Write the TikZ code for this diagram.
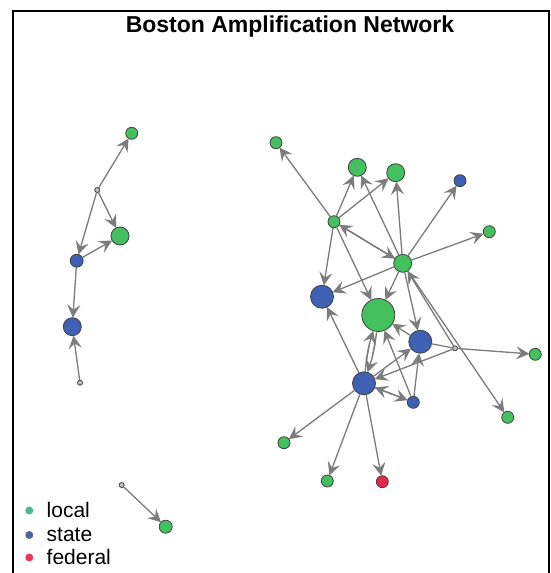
\documentclass[tikz,border=0pt]{standalone}
\usepackage{fontspec}
\setmainfont{Liberation Sans}
\usetikzlibrary{arrows.meta}
\definecolor{localc}{HTML}{44C15E}
\definecolor{statec}{HTML}{3F61B4}
\definecolor{fedc}{HTML}{E8264C}
\definecolor{leglocal}{HTML}{48B98C}
\definecolor{legstate}{HTML}{4A6A9E}
\definecolor{legfed}{HTML}{E83A5C}
\definecolor{edgec}{HTML}{7C7C7C}
\tikzset{
  vtx/.style={circle, draw=black!75, line width=0.8pt, inner sep=0pt, outer sep=0pt},
  loc/.style={vtx, fill=localc},
  sta/.style={vtx, fill=statec},
  fed/.style={vtx, fill=fedc},
  tinyv/.style={vtx, fill=gray!50, minimum size=5pt},
  sm/.style={minimum size=12pt},
  md/.style={minimum size=18pt},
  lg/.style={minimum size=23pt},
  edge/.style={draw=edgec, line width=1.3pt, -{Stealth[length=13pt,width=13pt,inset=5pt]}, fill=edgec},
  plain/.style={draw=edgec, line width=1.3pt},
  legtext/.style={anchor=base west, font=\fontsize{21}{21}\selectfont, inner sep=0pt},
  legdot/.style={circle, inner sep=0pt, minimum size=8pt}
}
\begin{document}
\begin{tikzpicture}[x=1pt,y=-1pt]
\useasboundingbox[fill=white] (0,0) rectangle (551,573);
\draw[line width=1.5pt] (13,573) -- (13,11) -- (549,11) -- (549,573);
\node[anchor=base, font=\bfseries\fontsize{23}{23}\selectfont, inner sep=0pt] (title) at (290,32) {Boston Amplification Network};

% left cluster
\node[loc, sm] (L1) at (131.7,133.3) {};
\node[tinyv] (L2) at (97.3,190) {};
\node[loc, md] (L3) at (120,236) {};
\node[sta, minimum size=13pt] (L4) at (76.7,260.7) {};
\node[sta, md] (L5) at (72.3,326.7) {};
\node[tinyv] (L6) at (80,382.7) {};
\node[tinyv] (T1) at (121.7,485) {};
\node[loc, minimum size=13pt] (T2) at (165.7,526.7) {};

% right cluster
\node[loc, sm] (A) at (276,142.7) {};
\node[loc, md] (B) at (357.3,167.3) {};
\node[loc, md] (C) at (395.7,172.7) {};
\node[sta, sm] (D) at (460,180.7) {};
\node[loc, sm] (E) at (334,221.7) {};
\node[loc, sm] (F) at (489.3,231.7) {};
\node[loc, md] (G) at (402.7,263.3) {};
\node[sta, lg] (H) at (322,296.7) {};
\node[loc, minimum size=33pt] (I) at (378.3,315) {};
\node[sta, lg] (J) at (420.3,341.7) {};
\node[tinyv] (K) at (455,348.3) {};
\node[loc, sm] (M) at (535.3,354.3) {};
\node[sta, lg] (N) at (364,383.3) {};
\node[sta, sm] (O) at (413.3,402.3) {};
\node[loc, sm] (P) at (507.7,417.3) {};
\node[loc, sm] (Q) at (284,442.7) {};
\node[loc, sm] (R) at (327.3,481) {};
\node[fed, sm] (S) at (382.3,481.7) {};

\path[edge] (L2) -- (L1);
\path[edge] (L2) -- (L3);
\path[edge] (L2) -- (L4);
\path[edge] (L4) -- (L3);
\path[edge] (L4) -- (L5);
\path[edge] (L6) -- (L5);
\path[edge] (T1) -- (T2);

\path[edge] (E) -- (A);
\path[edge] (E) -- (B);
\path[edge] (E) -- (C);
\path[edge] (E) -- (G);
\path[edge] (G) -- (E);
\path[edge] (G) -- (B);
\path[edge] (G) -- (C);
\path[edge] (G) -- (D);
\path[edge] (G) -- (F);
\path[edge] (G) -- (H);
\path[edge] (E) -- (H);
\path[edge] (E) -- (I);
\path[edge] (G) -- (I);
\path[edge] (G) -- (J);
\path[edge] (G) -- (P);
\path[edge] (K) -- (G);
\path[edge] (K) -- (M);
\path[edge] (K) -- (N);
\path[plain] (J) -- (K);
\path[edge] (N) -- (H);
\path[edge] (N) to[bend left=6] (I);
\path[edge] (I) to[bend left=6] (N);
\path[edge] (O) -- (I);
\path[edge] (J) -- (I);
\path[edge] (N) -- (J);
\path[edge] (N) -- (O);
\path[edge] (O) -- (N);
\path[edge] (O) -- (J);
\path[edge] (N) -- (Q);
\path[edge] (N) -- (R);
\path[edge] (N) -- (S);

% legend
\node[legdot, fill=leglocal] (d1) at (29.3,510.5) {};
\node[legdot, fill=legstate] (d2) at (29.3,535) {};
\node[legdot, fill=legfed] (d3) at (29.3,557.5) {};
\node[legtext] (t1) at (46.5,517) {local};
\node[legtext] (t2) at (46.5,541) {state};
\node[legtext] (t3) at (46.5,564) {federal};
\end{tikzpicture}
\end{document}
